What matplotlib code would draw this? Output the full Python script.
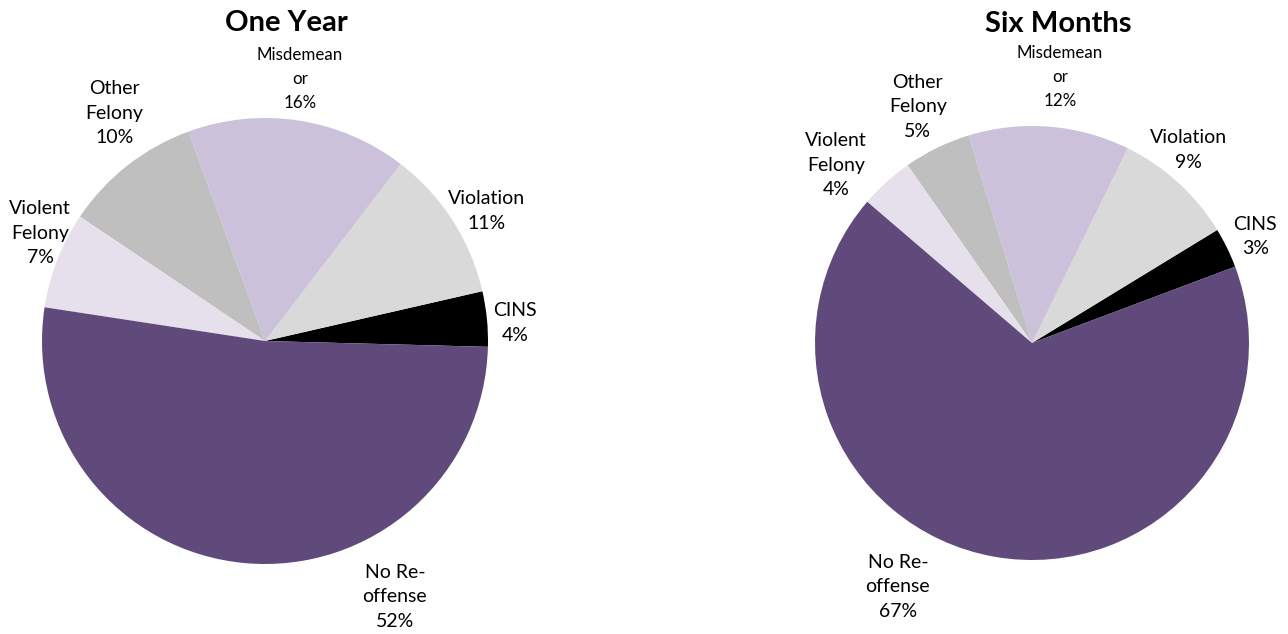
import numpy as np
import matplotlib
matplotlib.use("Agg")
import matplotlib.pyplot as plt

plt.rcParams['font.family'] = ['Lato', 'DejaVu Sans']

categories = ["CINS", "Violation", "Misdemeanor", "Other Felony", "Violent Felony", "No Re-offense"]
label_texts = ["CINS", "Violation", "Misdemean\nor", "Other\nFelony", "Violent\nFelony", "No Re-\noffense"]
one_year = [4, 11, 16, 10, 7, 52]
six_months = [3, 9, 12, 5, 4, 67]
titles = ["One Year", "Six Months"]

colors = ["#000000", "#D9D9D9", "#CCC1DA", "#BFBFBF", "#E6E0EC", "#604A7B"]

W, H = 1288, 634
fig = plt.figure(figsize=(W / 100, H / 100), dpi=100)

# (center x px, center y px from top, radius px, start angle)
layouts = [(265, 341, 223, -1.5), (1032, 343, 217, 20.6)]
# label placement: (angle deg, distance in radii) per category
label_pos = [
    [(4.1, 1.125), (30.4, 1.153), (82.4, 1.185), (123.5, 1.226), (154.4, 1.119), (-63.1, 1.287)],
    [(25.5, 1.14), (51.0, 1.144), (84.0, 1.233), (115.8, 1.208), (137.8, 1.22), (-118.8, 1.283)],
]
title_pos = [(286, 23), (1058, 24)]

for i, vals in enumerate([one_year, six_months]):
    cx, cy, r, start = layouts[i]
    ax = fig.add_axes([(cx - r) / W, (H - cy - r) / H, 2 * r / W, 2 * r / H])
    ax.pie(vals, colors=colors, startangle=start, counterclock=True,
           wedgeprops=dict(linewidth=0))
    ax.set_xlim(-1, 1)
    ax.set_ylim(-1, 1)
    ax.set_aspect('equal')
    ax.axis('off')
    for j, (lab, v) in enumerate(zip(label_texts, vals)):
        ang, dist = label_pos[i][j]
        x = dist * np.cos(np.radians(ang))
        y = dist * np.sin(np.radians(ang))
        fs = 12.2 if j == 2 else 14
        ax.text(x, y, f"{lab}\n{v}%", ha='center', va='center', fontsize=fs,
                linespacing=1.6 if j == 2 else 1.52, clip_on=False, color='black')
    tx, ty = title_pos[i]
    fig.text(tx / W, 1 - ty / H, titles[i], ha='center', va='center',
             fontsize=21, fontweight='bold')

fig.savefig("out.png", dpi=100)
